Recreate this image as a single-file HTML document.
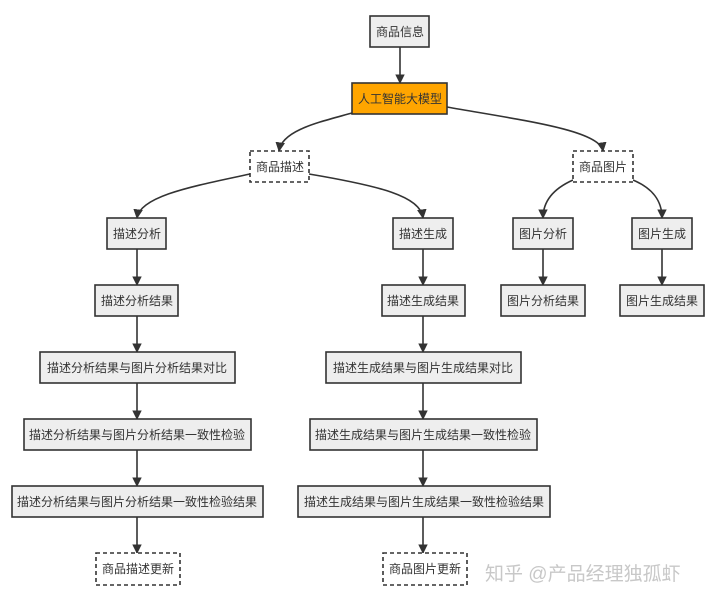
<!DOCTYPE html>
<html><head><meta charset="utf-8"><style>
html,body{margin:0;padding:0;background:#fff;}
svg{display:block;}
text{font-family:"Liberation Sans","Noto Sans CJK SC",sans-serif;font-size:12px;fill:#333;}
</style></head><body>
<svg width="720" height="601" viewBox="0 0 720 601" xmlns="http://www.w3.org/2000/svg">
<defs><marker id="a" viewBox="0 0 10 10" refX="9" refY="5" markerWidth="6" markerHeight="6" orient="auto"><path d="M0,0L10,5L0,10z" fill="#333"/></marker></defs>
<g fill="none" stroke="#333" stroke-width="1.6" marker-end="url(#a)">
<path d="M400,47V83"/>
<path d="M352,113C320,122 282,130 279,151"/>
<path d="M447,107C520,120 600,130 603,151"/>
<path d="M250,174C200,185 140,195 137,218"/>
<path d="M309,174C380,186 420,196 423,218"/>
<path d="M573,180C555,188 543,200 543,218"/>
<path d="M633,180C652,188 662,200 662,218"/>
<path d="M137,249V285"/><path d="M423,249V285"/><path d="M543,249V285"/><path d="M662,249V285"/>
<path d="M137,316V352"/><path d="M423,316V352"/>
<path d="M137,383V419"/><path d="M423,383V419"/>
<path d="M137,450V486"/><path d="M423,450V486"/>
<path d="M137,517V553"/><path d="M423,517V553"/>
</g>
<g stroke="#333" stroke-width="1.6" fill="#eee">
<rect x="370" y="16" width="59" height="31"/>
<rect x="352" y="83" width="95" height="31" fill="#ffa500"/>
<rect x="107" y="218" width="59" height="31"/>
<rect x="393" y="218" width="60" height="31"/>
<rect x="513" y="218" width="60" height="31"/>
<rect x="632" y="218" width="60" height="31"/>
<rect x="95" y="285" width="83" height="31"/>
<rect x="382" y="285" width="83" height="31"/>
<rect x="501" y="285" width="84" height="31"/>
<rect x="620" y="285" width="84" height="31"/>
<rect x="40" y="352" width="195" height="31"/>
<rect x="326" y="352" width="195" height="31"/>
<rect x="24" y="419" width="227" height="31"/>
<rect x="310" y="419" width="227" height="31"/>
<rect x="12" y="486" width="251" height="31"/>
<rect x="298" y="486" width="252" height="31"/>
</g>
<g stroke="#333" stroke-width="1.6" fill="#fff" stroke-dasharray="4,3">
<rect x="250" y="151" width="59" height="31"/>
<rect x="573" y="151" width="60" height="31"/>
<rect x="96" y="553" width="84" height="32"/>
<rect x="383" y="553" width="84" height="32"/>
</g>
<g text-anchor="middle">
<text x="400" y="36">商品信息</text>
<text x="400" y="103">人工智能大模型</text>
<text x="280" y="171">商品描述</text>
<text x="603" y="171">商品图片</text>
<text x="137" y="238">描述分析</text>
<text x="423" y="238">描述生成</text>
<text x="543" y="238">图片分析</text>
<text x="662" y="238">图片生成</text>
<text x="137" y="305">描述分析结果</text>
<text x="423" y="305">描述生成结果</text>
<text x="543" y="305">图片分析结果</text>
<text x="662" y="305">图片生成结果</text>
<text x="137" y="372">描述分析结果与图片分析结果对比</text>
<text x="423" y="372">描述生成结果与图片生成结果对比</text>
<text x="137" y="439">描述分析结果与图片分析结果一致性检验</text>
<text x="423" y="439">描述生成结果与图片生成结果一致性检验</text>
<text x="137" y="506">描述分析结果与图片分析结果一致性检验结果</text>
<text x="424" y="506">描述生成结果与图片生成结果一致性检验结果</text>
<text x="138" y="573">商品描述更新</text>
<text x="425" y="573">商品图片更新</text>
</g>
<text x="485" y="580" style="font-size:19px;fill:#c8c8c8">知乎 @产品经理独孤虾</text>
</svg>
</body></html>
